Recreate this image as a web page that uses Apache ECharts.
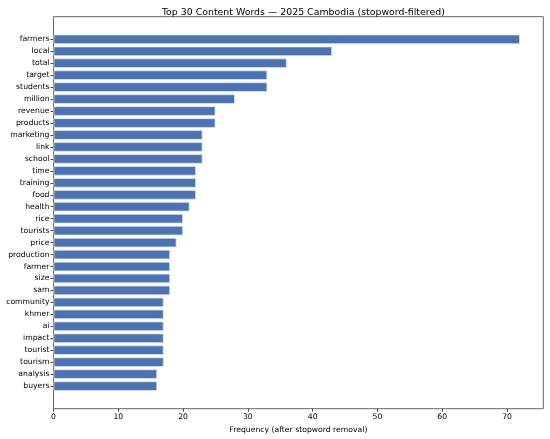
<!DOCTYPE html>
<html style="height: 100%">
<head>
  <meta charset="utf-8">
</head>
<body style="height: 100%; margin: 0">
<div id="container" style="width: 550px; height: 439px"></div>
<script type="text/javascript" src="https://cdn.jsdelivr.net/npm/echarts@6/dist/echarts.min.js"></script>
<script type="text/javascript">
var words = ['farmers','local','total','target','students','million','revenue','products','marketing','link',
    'school','time','training','food','health','rice','tourists','price','production','farmer',
    'size','sam','community','khmer','ai','impact','tourist','tourism','analysis','buyers'];
var counts = [72,43,36,33,33,28,25,25,23,23,
    23,22,22,22,21,20,20,19,18,18,
    18,18,17,17,17,17,17,17,16,16];
var xTicks = [0,10,20,30,40,50,60,70];

var dom = document.getElementById('container');
var myChart = echarts.init(dom);

// matplotlib-ish layout: frame grid and an inner grid for the category bands
var plotLeft = 53.5, plotRight = 6.7, plotTop = 16.7, plotBottom = 30.3;
var plotH = 439 - plotTop - plotBottom;
var yRange = words.length - 1 + 0.8 + 2 * 0.05 * (words.length - 1 + 0.8); // barh margins
var unit = plotH / yRange;
var pad = (yRange - words.length) / 2 * unit;
var xMax = 72 * 1.05;
var font = 'DejaVu Sans';

var option = {
    animation: false,
    title: {
        text: 'Top 30 Content Words \u2014 2025 Cambodia (stopword-filtered)',
        left: plotLeft + (550 - plotLeft - plotRight) / 2,
        textAlign: 'center',
        top: 3,
        textStyle: {fontFamily: font, fontSize: 9.4, fontWeight: 'normal', color: '#000'}
    },
    grid: [
        {left: plotLeft, right: plotRight, top: plotTop, bottom: plotBottom,
         show: true, borderColor: '#666', borderWidth: 1, backgroundColor: '#fff'},
        {left: plotLeft, right: plotRight, top: plotTop + pad, bottom: plotBottom + pad}
    ],
    xAxis: [
        {
            gridIndex: 0, type: 'value', min: 0, max: xMax, interval: 10,
            name: 'Frequency (after stopword removal)', nameLocation: 'middle', nameGap: 17,
            nameTextStyle: {fontFamily: font, fontSize: 7.7, color: '#000'},
            axisLine: {show: false},
            axisTick: {show: true, length: 3, lineStyle: {color: '#444'}},
            axisLabel: {fontFamily: font, fontSize: 7.7, color: '#000', margin: 4, showMaxLabel: false,
                formatter: function (v) { return xTicks.indexOf(v) >= 0 ? v : ''; }},
            splitLine: {show: false}
        },
        {gridIndex: 1, type: 'value', min: 0, max: xMax, show: false}
    ],
    yAxis: [
        {gridIndex: 0, type: 'value', show: false},
        {
            gridIndex: 1, type: 'category', inverse: true, data: words,
            axisLine: {show: false},
            axisTick: {show: true, alignWithLabel: true, length: 3, lineStyle: {color: '#444'}},
            axisLabel: {fontFamily: font, fontSize: 7.7, color: '#000', margin: 4, interval: 0},
            splitLine: {show: false}
        }
    ],
    series: [
        {
            type: 'bar', xAxisIndex: 1, yAxisIndex: 1,
            data: counts,
            barWidth: unit * 0.8,
            itemStyle: {color: '#4c72b0', borderColor: '#dde6f3', borderWidth: 0.8}
        }
    ]
};
myChart.setOption(option);
</script>
</body>
</html>
